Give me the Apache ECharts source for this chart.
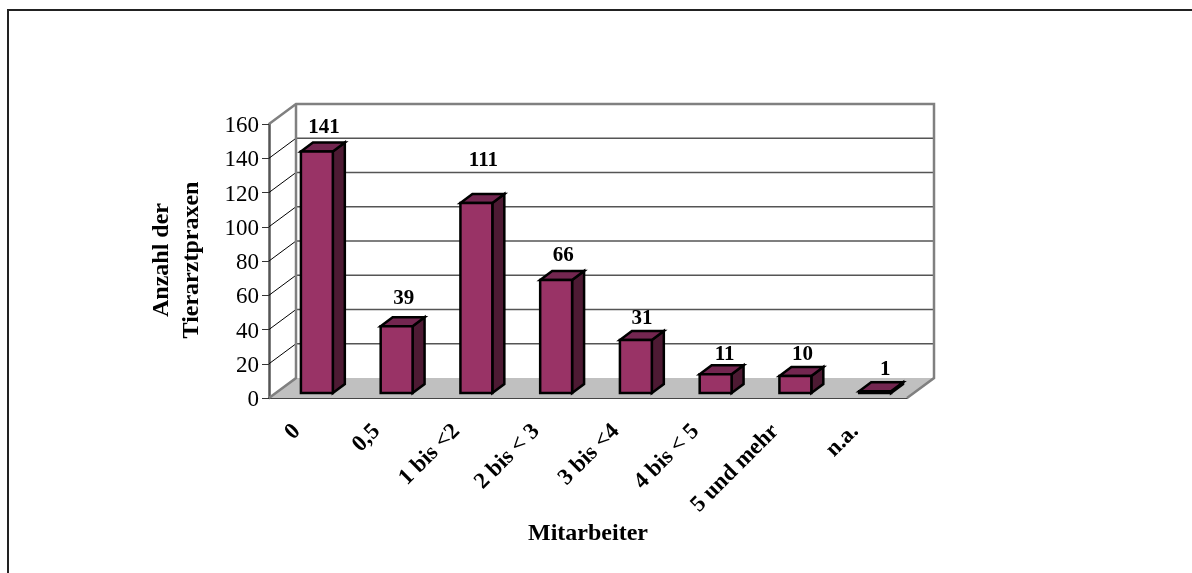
<!DOCTYPE html>
<html>
<head>
<meta charset="utf-8">
<style>html,body{margin:0;padding:0;background:#fff}#chart{width:1192px;height:573px}</style>
<script src="https://cdn.jsdelivr.net/npm/echarts@6/dist/echarts.min.js"></script>
</head>
<body>
<div id="chart"></div>
<script>
// Tierarztpraxen nach Anzahl der Mitarbeiter
const categories = ['0', '0,5', '1 bis <2', '2 bis < 3', '3 bis <4', '4 bis < 5', '5 und mehr', 'n.a.'];
const counts = [141, 39, 111, 66, 31, 11, 10, 1];
const yTicks = [0, 20, 40, 60, 80, 100, 120, 140, 160];
// Extra lift of each value label above its column, in pixels
const labelLift = [1, 5, 20, 2, -1, -3, -1, -1];
// Sideways nudge of each value label, in pixels
const labelNudge = [0, 0, 0, 0, -1, 2, 0, 3];

// Oblique projection used for the walls and the columns
const WALL_DX = 27, WALL_DY = -20;
const COL_DX = 12, COL_DY = -9;
const COL_SHIFT_X = 8, COL_SHIFT_Y = -5;
const COL_WIDTH = 0.4;
const SERIF = '"Liberation Serif", "Times New Roman", serif';

function drawWalls(params, api) {
  const cs = params.coordSys;
  const left = cs.x, right = cs.x + cs.width;
  const bottom = cs.y + cs.height, top = cs.y;
  const frame = { stroke: '#808080', lineWidth: 2.5, fill: 'none' };
  const children = [{
    type: 'polygon',
    shape: { points: [[left, bottom], [right, bottom], [right + WALL_DX, bottom + WALL_DY], [left + WALL_DX, bottom + WALL_DY]] },
    style: { fill: '#c0c0c0' }
  }];
  yTicks.slice(1, -1).forEach(function (t) {
    const y = api.coord([0, t])[1];
    children.push({
      type: 'line',
      shape: { x1: left, y1: y, x2: left + WALL_DX, y2: y + WALL_DY },
      style: { stroke: '#000', lineWidth: 1 }
    }, {
      type: 'line',
      shape: { x1: left + WALL_DX, y1: y + WALL_DY, x2: right + WALL_DX, y2: y + WALL_DY },
      style: { stroke: '#555', lineWidth: 1.5 }
    });
  });
  children.push({
    type: 'polyline',
    shape: { points: [[left, top], [left + WALL_DX, top + WALL_DY], [right + WALL_DX, top + WALL_DY], [right + WALL_DX, bottom + WALL_DY], [right, bottom]] },
    style: frame
  }, {
    type: 'polyline',
    shape: { points: [[left + WALL_DX, top + WALL_DY], [left + WALL_DX, bottom + WALL_DY], [left, bottom]] },
    style: frame
  });
  return { type: 'group', children: children };
}

function drawColumn(params, api) {
  const idx = api.value(0), val = api.value(1);
  const base = api.coord([idx, 0]);
  const head = api.coord([idx, val]);
  const w = api.size([1, 0])[0] * COL_WIDTH;
  const x0 = base[0] - w / 2 + COL_SHIFT_X, x1 = x0 + w;
  const yb = base[1] + COL_SHIFT_Y, yt = head[1] + COL_SHIFT_Y;
  const edge = { stroke: '#000', lineWidth: 2.5, lineJoin: 'miter' };
  return {
    type: 'group',
    children: [{
      type: 'polygon',
      shape: { points: [[x1, yb], [x1 + COL_DX, yb + COL_DY], [x1 + COL_DX, yt + COL_DY], [x1, yt]] },
      style: Object.assign({ fill: '#4d1a33' }, edge)
    }, {
      type: 'polygon',
      shape: { points: [[x0, yt], [x1, yt], [x1 + COL_DX, yt + COL_DY], [x0 + COL_DX, yt + COL_DY]] },
      style: Object.assign({ fill: '#732650' }, edge)
    }, {
      type: 'rect',
      shape: { x: x0, y: yt, width: w, height: yb - yt },
      style: Object.assign({ fill: '#993366' }, edge)
    }, {
      type: 'text',
      x: x0 + w / 2 + COL_DX / 2 + 1 + labelNudge[idx],
      y: yt + COL_DY - 3 - labelLift[idx],
      style: {
        text: String(val),
        font: 'bold 21px ' + SERIF,
        fill: '#000',
        textAlign: 'center',
        textVerticalAlign: 'bottom'
      }
    }]
  };
}

const chart = echarts.init(document.getElementById('chart'));
chart.setOption({
  animation: false,
  backgroundColor: '#fff',
  grid: { left: 269, right: 285, top: 124, bottom: 175, containLabel: false },
  graphic: [{
    type: 'polyline',
    shape: { points: [[8, 573], [8, 10], [1192, 10]] },
    style: { stroke: '#222', lineWidth: 2, fill: 'none' },
    silent: true
  }, {
    type: 'text',
    x: 177,
    y: 260,
    rotation: Math.PI / 2,
    style: {
      text: 'Anzahl der\nTierarztpraxen',
      font: 'bold 24px ' + SERIF,
      lineHeight: 30,
      fill: '#000',
      textAlign: 'center',
      textVerticalAlign: 'middle'
    }
  }],
  xAxis: {
    type: 'category',
    data: categories,
    name: 'Mitarbeiter',
    nameLocation: 'middle',
    nameGap: 124,
    nameTextStyle: { fontFamily: SERIF, fontWeight: 'bold', fontSize: 24, color: '#000' },
    axisLine: { lineStyle: { color: '#444', width: 2 } },
    axisTick: { length: 9, lineStyle: { color: '#444', width: 1.5 } },
    axisLabel: {
      rotate: 45,
      interval: 0,
      margin: 18,
      align: 'right',
      verticalAlign: 'middle',
      padding: [0, 17, 0, 0],
      fontFamily: SERIF,
      fontWeight: 'bold',
      fontSize: 23,
      color: '#000'
    }
  },
  yAxis: {
    type: 'value',
    min: 0,
    max: 160,
    interval: 20,
    axisLine: { show: true, lineStyle: { color: '#555', width: 2.5 } },
    axisTick: { show: true, length: 7, lineStyle: { color: '#333', width: 1 } },
    splitLine: { show: false },
    axisLabel: { margin: 10, verticalAlign: 'top', lineHeight: 4, fontFamily: SERIF, fontSize: 23, color: '#000' }
  },
  series: [{
    type: 'custom',
    renderItem: drawWalls,
    data: [[0, 0]],
    silent: true,
    z: 1
  }, {
    type: 'custom',
    renderItem: drawColumn,
    encode: { x: 0, y: 1 },
    data: counts.map(function (v, i) { return [i, v]; }),
    z: 2
  }]
});
</script>
</body>
</html>
